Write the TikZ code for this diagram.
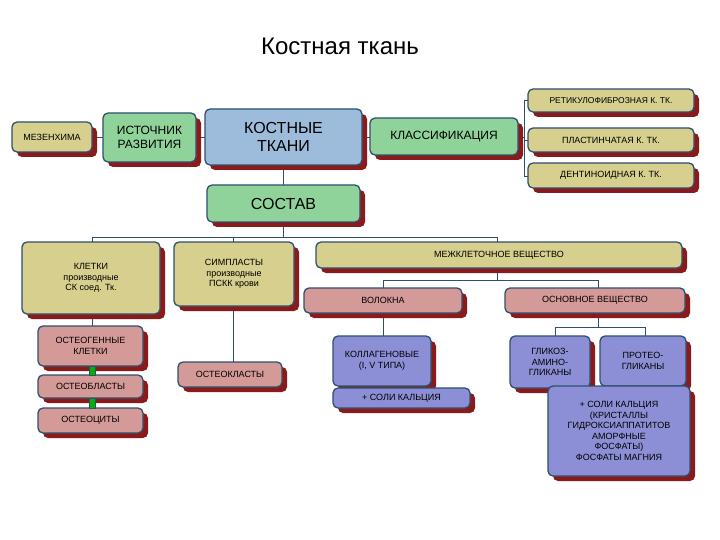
\documentclass[tikz,border=0pt]{standalone}
\usepackage{fontspec}
\setmainfont{Liberation Sans}
\definecolor{tan}{HTML}{D6CF8E}
\definecolor{grn}{HTML}{8FD39A}
\definecolor{blu}{HTML}{9DBCDB}
\definecolor{pnk}{HTML}{D49A98}
\definecolor{prp}{HTML}{8C8FD6}
\definecolor{shd}{HTML}{8B1A1A}
\definecolor{brd}{HTML}{2F4F6F}
\begin{document}
\begin{tikzpicture}[x=1pt,y=-1pt,
 bx/.style={draw=brd,line width=1.3pt,rounded corners=5pt,align=center,inner sep=1pt,font=\fontsize{9}{10.5}\selectfont},
 big/.style={font=\fontsize{12}{13.5}\selectfont},
 huge/.style={font=\fontsize{16}{18}\selectfont},
 sh/.style={fill=shd,rounded corners=5pt},
 ln/.style={draw=brd,line width=0.7pt}]
\useasboundingbox (0,0) rectangle (720,540);
\fill[white] (0,0) rectangle (720,540);
\newcommand\bb[7]{%
 \fill[sh] (#2+5,#3+5) rectangle (#4+5,#5+5);
 \node[bx,#7,fill=#6,minimum width=#4-#2,minimum height=#5-#3] (#1) at ({(#2+#4)/2},{(#3+#5)/2}) {\BoxText};}
\node[fill=white,minimum width=280,minimum height=52,font=\fontsize{24}{28}\selectfont] (title) at (340,46) {Костная ткань};
% lines
\draw[ln] (283,165) -- (283,237);
\draw[ln] (92,237) -- (497,237);
\draw[ln] (92,237) -- (92,242); \draw[ln] (233,237) -- (233,242); \draw[ln] (497,237) -- (497,242);
\draw[ln] (497,268) -- (497,280); \draw[ln] (383,280) -- (598,280);
\draw[ln] (383,280) -- (383,288); \draw[ln] (598,280) -- (598,288);
\draw[ln] (92,314) -- (92,326); \draw[ln] (233,306) -- (233,362);
\draw[ln] (383,313) -- (383,336);
\draw[ln] (598,313) -- (598,327); \draw[ln] (555,327) -- (645,327);
\draw[ln] (555,327) -- (555,336); \draw[ln] (645,327) -- (645,336);
\draw[ln] (518,137) -- (524,137); \draw[ln] (524,100) -- (524,176);
\draw[ln] (524,100) -- (528,100); \draw[ln] (524,140) -- (528,140); \draw[ln] (524,176) -- (528,176);
\draw[ln] (92,137) -- (103,137); \draw[ln] (196,137) -- (205,137); \draw[ln] (362,137) -- (370,137);
% boxes
\def\BoxText{МЕЗЕНХИМА}\bb{mez}{12}{122}{92}{152}{tan}{}
\def\BoxText{ИСТОЧНИК\\ РАЗВИТИЯ}\bb{ist}{103}{113}{196}{162}{grn}{big}
\def\BoxText{КОСТНЫЕ\\ ТКАНИ}\bb{kt}{205}{109}{362}{165}{blu}{huge}
\def\BoxText{КЛАССИФИКАЦИЯ}\bb{kl}{370}{118}{518}{155}{grn}{big}
\def\BoxText{РЕТИКУЛОФИБРОЗНАЯ К. ТК.}\bb{r1}{528}{89}{694}{112}{tan}{font=\fontsize{8.5}{10}\selectfont}
\def\BoxText{ПЛАСТИНЧАТАЯ К. ТК.}\bb{r2}{528}{128}{694}{152}{tan}{}
\def\BoxText{ДЕНТИНОИДНАЯ К. ТК.}\bb{r3}{528}{163}{694}{188}{tan}{}
\def\BoxText{СОСТАВ}\bb{sos}{207}{185}{360}{222}{grn}{huge}
\def\BoxText{КЛЕТКИ\\ производные\\ СК соед. Тк.}\bb{kle}{22}{242}{160}{314}{tan}{}
\def\BoxText{СИМПЛАСТЫ\\ производные\\ ПСКК крови}\bb{sim}{174}{242}{294}{306}{tan}{}
\def\BoxText{МЕЖКЛЕТОЧНОЕ ВЕЩЕСТВО}\bb{mez2}{316}{242}{682}{268}{tan}{}
\def\BoxText{ВОЛОКНА}\bb{vol}{304}{288}{462}{313}{pnk}{}
\def\BoxText{ОСНОВНОЕ ВЕЩЕСТВО}\bb{osn}{505}{288}{685}{313}{pnk}{}
\def\BoxText{ОСТЕОГЕННЫЕ\\ КЛЕТКИ}\bb{og}{38}{326}{143}{366}{pnk}{}
\def\BoxText{ОСТЕОБЛАСТЫ}\bb{ob}{38}{375}{143}{398}{pnk}{}
\def\BoxText{ОСТЕОЦИТЫ}\bb{oc}{38}{408}{143}{433}{pnk}{}
\def\BoxText{ОСТЕОКЛАСТЫ}\bb{ok}{178}{362}{282}{387}{pnk}{}
\def\BoxText{КОЛЛАГЕНОВЫЕ\\ (I, V ТИПА)}\bb{kol}{333}{336}{431}{386}{prp}{}
\def\BoxText{+ СОЛИ КАЛЬЦИЯ}\bb{sk1}{333}{388}{470}{408}{prp}{}
\def\BoxText{ГЛИКОЗ-\\ АМИНО-\\ ГЛИКАНЫ}\bb{gl}{510}{336}{590}{388}{prp}{}
\def\BoxText{ПРОТЕО-\\ ГЛИКАНЫ}\bb{pr}{600}{336}{686}{386}{prp}{}
\def\BoxText{+ СОЛИ КАЛЬЦИЯ\\ (КРИСТАЛЛЫ\\ ГИДРОКСИАППАТИТОВ\\ АМОРФНЫЕ\\ ФОСФАТЫ)\\ ФОСФАТЫ МАГНИЯ}\bb{sk2}{548}{386}{690}{476}{prp}{}
% green links
\fill[green!70!black,draw=brd] (89,366) rectangle (95,375);
\fill[green!70!black,draw=brd] (89,398) rectangle (95,408);
\end{tikzpicture}
\end{document}
